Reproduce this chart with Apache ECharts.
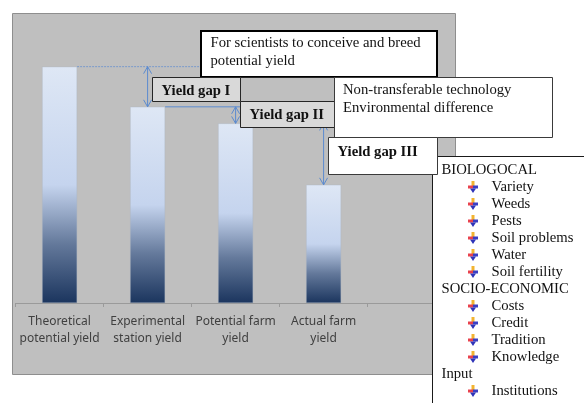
<!DOCTYPE html>
<html>
<head>
<meta charset="utf-8">
<script src="https://cdn.jsdelivr.net/npm/echarts@6/dist/echarts.min.js"></script>
<style>
  html, body { margin: 0; padding: 0; background: #ffffff; }
  #chart { width: 584px; height: 403px; }
</style>
</head>
<body>
<div id="chart"></div>
<script>
// Yield levels along the chain from theoretical potential to actual farm yield
const categories = [
  'Theoretical\npotential yield',
  'Experimental\nstation yield',
  'Potential farm\nyield',
  'Actual farm\nyield',
  ''
];
const yields = [10, 8.3, 7.6, 5.0, null];

// Constraint groups listed beside the chart
const biologicalFactors = ['Variety', 'Weeds', 'Pests', 'Soil problems', 'Water', 'Soil fertility'];
const socioEconomicFactors = ['Costs', 'Credit', 'Tradition', 'Knowledge'];
const inputFactors = ['Institutions'];
const factorGroups = [
  { head: 'BIOLOGOCAL', items: biologicalFactors },
  { head: 'SOCIO-ECONOMIC', items: socioEconomicFactors },
  { head: 'Input', items: inputFactors }
];

const SERIF = '"Liberation Serif", "Times New Roman", serif';
const FS = '14.7px ';
const BAR_W = 35;

// Gaps between consecutive yield levels: [category index, upper level, lower level]
const gapData = [];
for (let i = 1; i < yields.length; i++) {
  if (yields[i] != null && yields[i - 1] != null) gapData.push([i, yields[i - 1], yields[i]]);
}

function renderGap(params, api) {
  const idx = api.value(0);
  const x = api.coord([idx, 0])[0];
  const top = api.coord([idx, api.value(1)])[1];
  const bot = api.coord([idx, api.value(2)])[1];
  const prevRight = api.coord([idx - 1, 0])[0] + BAR_W / 2;
  const first = params.dataIndex === 0;
  const arrowColor = '#5b8bd0';
  return {
    type: 'group',
    children: [
      {
        type: 'line',
        shape: { x1: prevRight, y1: top, x2: x + 60, y2: top },
        style: first
          ? { stroke: '#7a9acb', lineWidth: 1, lineDash: [2, 1] }
          : { stroke: arrowColor, lineWidth: 1 }
      },
      { type: 'line', shape: { x1: x, y1: top, x2: x, y2: bot }, style: { stroke: arrowColor, lineWidth: 1 } },
      { type: 'polyline', shape: { points: [[x - 4, top + 7], [x, top], [x + 4, top + 7]] }, style: { stroke: arrowColor, fill: null, lineWidth: 1 } },
      { type: 'polyline', shape: { points: [[x - 4, bot - 7], [x, bot], [x + 4, bot - 7]] }, style: { stroke: arrowColor, fill: null, lineWidth: 1 } }
    ]
  };
}

// Text boxes
function box(x, y, w, h, fill, stroke, lw, z) {
  return { type: 'rect', z: z, shape: { x: x, y: y, width: w, height: h }, style: { fill: fill, stroke: stroke, lineWidth: lw } };
}
function label(text, x, y, font, z) {
  return { type: 'text', z: z, style: { text: text, x: x, y: y, font: font, fill: '#111111', verticalAlign: 'middle', align: 'left', lineHeight: 18 } };
}

// Colourful down-arrow bullet
function bullet(cx, cy, z) {
  return {
    type: 'group', z: z, x: cx, y: cy,
    children: [
      { type: 'rect', z: z, shape: { x: -1.5, y: -6, width: 3, height: 6 }, style: { fill: '#f2b431' } },
      { type: 'rect', z: z, shape: { x: -5, y: -1.5, width: 5, height: 3 }, style: { fill: '#e8414d' } },
      { type: 'rect', z: z, shape: { x: 0, y: -1.5, width: 5, height: 3 }, style: { fill: '#3a3fc4' } },
      { type: 'polygon', z: z, shape: { points: [[-3, 1.5], [3, 1.5], [0, 6]] }, style: { fill: '#2f34b8' } }
    ]
  };
}

const graphics = [
  // chart panel
  box(12.5, 13.5, 443, 361, '#bfbfbf', '#8e8e8e', 1, -1),
  // note boxes
  box(201, 31, 236, 46, '#ffffff', '#000000', 2, 10),
  label('For scientists to conceive and breed\npotential yield', 210.5, 52.5, FS + SERIF, 11),
  box(432.5, 156.5, 160, 260, '#ffffff', '#1a1a1a', 1, 10),
  box(152.5, 77.5, 88, 24, '#d9d9d9', '#262626', 1, 12),
  label('Yield gap I', 161.5, 91, 'bold ' + FS + SERIF, 13),
  box(240.5, 77.5, 94, 24, '#bfbfbf', '#262626', 1, 12),
  box(240.5, 101.5, 94, 26, '#d9d9d9', '#262626', 1, 12),
  label('Yield gap II', 249.5, 115.5, 'bold ' + FS + SERIF, 13),
  box(334.5, 77.5, 218, 60, '#ffffff', '#3a3a3a', 1, 12),
  label('Non-transferable technology\nEnvironmental difference', 343, 99, FS + SERIF, 13),
  box(328.5, 137.5, 109, 37, '#ffffff', '#3a3a3a', 1, 14),
  label('Yield gap III', 337.5, 152, 'bold ' + FS + SERIF, 15)
];

// factor list
let row = 0;
const ROW0 = 170, PITCH = 17;
factorGroups.forEach(function (g) {
  graphics.push(label(g.head, 441.5, ROW0 + row * PITCH, FS + SERIF, 11));
  row++;
  g.items.forEach(function (it) {
    graphics.push(bullet(473, ROW0 + row * PITCH, 11));
    graphics.push(label(it, 491.5, ROW0 + row * PITCH, FS + SERIF, 11));
    row++;
  });
});

const chart = echarts.init(document.getElementById('chart'), null, { renderer: 'canvas' });
chart.setOption({
  animation: false,
  backgroundColor: '#ffffff',
  grid: { left: 15.6, right: 128.4, top: 19.4, bottom: 100, containLabel: false },
  xAxis: {
    type: 'category',
    data: categories,
    axisLine: { lineStyle: { color: '#9a9a9a', width: 1 } },
    axisTick: { show: true, length: 4, lineStyle: { color: '#9a9a9a' } },
    axisLabel: {
      color: '#404040', fontSize: 12, lineHeight: 17, margin: 10,
      fontFamily: '"Noto Sans", "Open Sans", sans-serif', interval: 0
    },
    z: 1
  },
  yAxis: { type: 'value', min: 0, max: 12, show: false, splitLine: { show: false } },
  series: [
    {
      type: 'bar',
      data: yields,
      barWidth: BAR_W,
      itemStyle: {
        color: new echarts.graphic.LinearGradient(0, 0, 0, 1, [
          { offset: 0, color: '#dee7f5' },
          { offset: 0.5, color: '#c5d4ee' },
          { offset: 0.75, color: '#64799b' },
          { offset: 1, color: '#1b355e' }
        ]),
        borderColor: 'rgba(170,180,195,0.7)',
        borderWidth: 0.5
      },
      z: 2
    },
    {
      type: 'custom',
      renderItem: renderGap,
      data: gapData,
      encode: { x: 0, y: [1, 2] },
      z: 3,
      silent: true
    }
  ],
  graphic: graphics
});
</script>
</body>
</html>
